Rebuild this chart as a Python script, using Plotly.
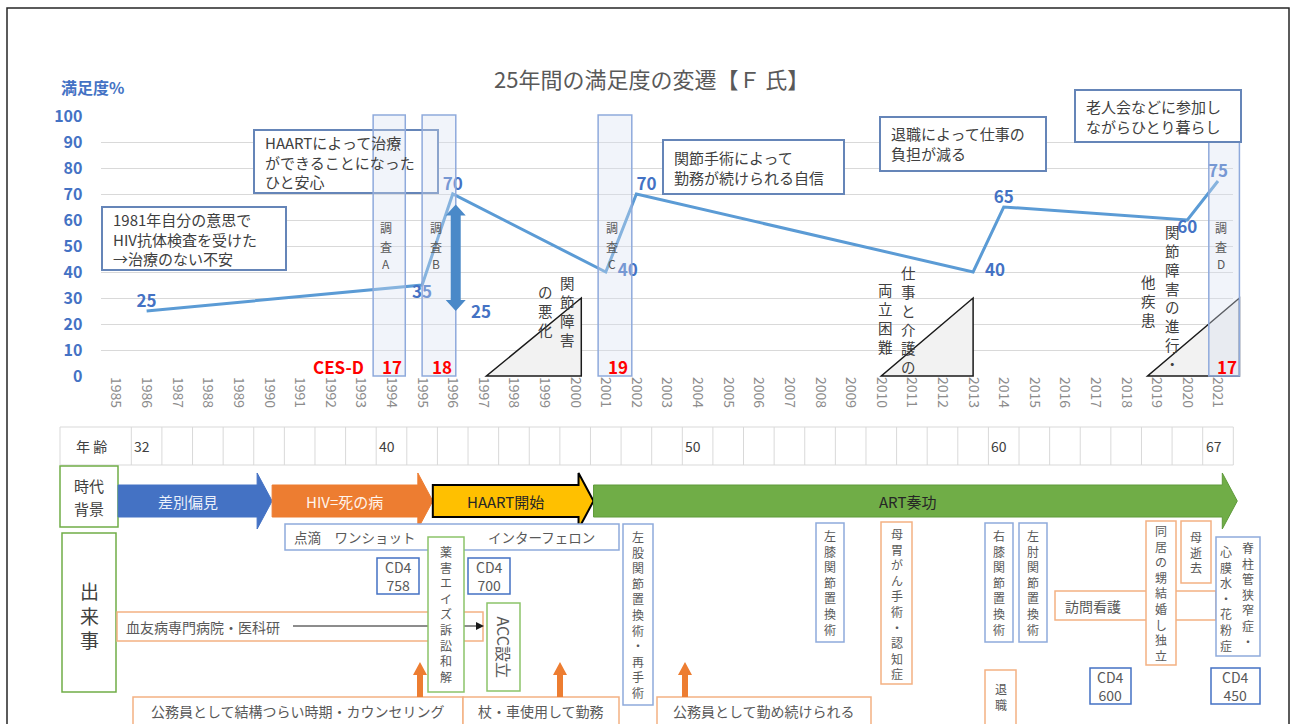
import plotly.graph_objects as go

W, H = 1295, 724
FONT = "Noto Sans CJK JP, Noto Sans, sans-serif"

BLUE_TXT = "#4472C4"
GRAY_TXT = "#595959"
DARK_TXT = "#404040"
BOX_EDGE = "#6585B8"
LIGHT_BLUE = "#8FAADC"
MID_BLUE = "#4472C4"
LIGHT_ORANGE = "#F4B183"
ORANGE = "#ED7D31"
GREEN = "#70AD47"
LIGHT_GREEN = "#8CC46A"

# ---- data -------------------------------------------------------------
YEARS = list(range(1985, 2022))
SAT_YEARS = [1986, 1995, 1996, 2001, 2002, 2013, 2014, 2020, 2021]
SAT_VALUES = [25, 35, 70, 40, 70, 40, 65, 60, 75]
SAT_LABEL_POS = ["top center", "bottom center", "top center", "middle right", "top right",
                 "middle right", "top center", "bottom center", "top center"]

GAP_YEAR = 1996
GAP_FROM, GAP_TO = 25, 66
GAP_LABEL = "25"

SURVEY_NAMES = ["A", "B", "C", "D"]
SURVEY_START = [1993.4, 1995.0, 2000.75, 2020.7]
SURVEY_END = [1994.45, 1996.1, 2001.85, 2021.7]
CESD_SCORES = [17, 18, 19, 17]

DIFF_START = [1997.1, 2010.0, 2018.7]
DIFF_END = [2000.2, 2013.0, 2021.7]
DIFF_HEIGHT = 30
DIFF_LABELS = [["関節障害", "の悪化"], ["仕事と介護の", "両立困難"], ["関節障害の進行・", "他疾患"]]

COMMENTS = [
    "1981年自分の意思で<br>HIV抗体検査を受けた<br>→治療のない不安",
    "HAARTによって治療<br>ができることになった<br>ひと安心",
    "関節手術によって<br>勤務が続けられる自信",
    "退職によって仕事の<br>負担が減る",
    "老人会などに参加し<br>ながらひとり暮らし",
]

AGE_YEARS = [1986, 1994, 2004, 2014, 2021]
AGES = [32, 40, 50, 60, 67]

ERA_NAMES = ["差別偏見", "HIV=死の病", "HAART開始", "ART奏功"]
ERA_BOUNDS = [1985.07, 1990.1, 1995.35, 2000.6, 2021.63]

CD4_VALUES = [758, 700, 600, 450]
EVENTS_V = ["薬害エイズ訴訟和解", "左股関節置換術・再手術", "左膝関節置換術", "母胃がん手術・認知症",
            "右膝関節置換術", "左肘関節置換術", "同居の甥結婚し独立", "母逝去", "退職"]
EVENTS_H = ["点滴　ワンショット", "インターフェロン", "血友病専門病院・医科研", "訪問看護",
            "公務員として結構つらい時期・カウンセリング", "杖・車使用して勤務", "公務員として勤め続けられる"]

# ---- geometry helpers ---------------------------------------------------
X_LEFT, X_RIGHT = 100.7, 1233.3
Y_BOTTOM, Y_TOP = 376, 116
R0, R1 = 1984.5, 2021.5

shapes, annotations = [], []


def px(x):
    return x / W


def py(y):
    return 1 - y / H


def xp(year):
    return X_LEFT + (year - R0) * (X_RIGHT - X_LEFT) / (R1 - R0)


def yp(v):
    return Y_BOTTOM - v * (Y_BOTTOM - Y_TOP) / 100


def rect(x0, y0, x1, y1, color, width=1.5, fill="white"):
    shapes.append(dict(type="rect", xref="paper", yref="paper", x0=px(x0), x1=px(x1),
                       y0=py(y1), y1=py(y0), line=dict(color=color, width=width),
                       fillcolor=fill, layer="above"))


def poly(points, fill, color="rgba(0,0,0,0)", width=0):
    d = "M " + " L ".join(f"{px(x):.5f},{py(y):.5f}" for x, y in points) + " Z"
    shapes.append(dict(type="path", xref="paper", yref="paper", path=d, fillcolor=fill,
                       line=dict(color=color, width=width), layer="above"))


def line(x0, y0, x1, y1, color, width=1):
    shapes.append(dict(type="line", xref="paper", yref="paper", x0=px(x0), x1=px(x1),
                       y0=py(y0), y1=py(y1), line=dict(color=color, width=width), layer="above"))


def text(x, y, s, size=14, color=GRAY_TXT, xanchor="center", bold=False, angle=0, align="left"):
    annotations.append(dict(xref="paper", yref="paper", x=px(x), y=py(y), text=s, showarrow=False,
                            xanchor=xanchor, yanchor="middle", align=align, textangle=angle,
                            borderpad=0,
                            font=dict(family=FONT, size=size, color=color,
                                      weight="bold" if bold else "normal")))


def vtext(x, yc, s, size=12, color=GRAY_TXT):
    # vertical writing: one glyph per line
    text(x, yc, "<br>".join(s), size, color, align="center")


def vbox(x0, y0, x1, y1, s, color, size=12, yc=None):
    rect(x0, y0, x1, y1, color)
    vtext((x0 + x1) / 2, yc if yc is not None else (y0 + y1) / 2, s, size)


def up_arrow(x, y_base, y_tip, color=ORANGE):
    poly([(x - 3, y_base), (x - 3, y_tip + 13), (x - 7, y_tip + 13), (x, y_tip),
          (x + 7, y_tip + 13), (x + 3, y_tip + 13), (x + 3, y_base)], color)


# ---- figure -----------------------------------------------------------
# labels set to the right of a point get a small lead so they clear the band text
sat_text = [("\u2002\u2009" if p == "middle right" else "") + str(v)
            for v, p in zip(SAT_VALUES, SAT_LABEL_POS)]

fig = go.Figure()
fig.add_trace(go.Scatter(
    x=SAT_YEARS, y=SAT_VALUES, mode="lines+text",
    text=sat_text, textposition=SAT_LABEL_POS,
    textfont=dict(family=FONT, size=17, color=BLUE_TXT, weight="bold"),
    line=dict(color="#5B9BD5", width=3), hoverinfo="skip", cliponaxis=False,
))

# outer frame
rect(7, 8, 1289, 760, "#262626", width=1.5, fill="rgba(0,0,0,0)")

# title and axis caption
text(651, 78, "25年間の満足度の変遷【Ｆ 氏】", 22, GRAY_TXT)
text(60, 87, "満足度%", 16, BLUE_TXT, xanchor="left", bold=True)

# comment boxes (HAART box sits under the survey bands)
COMMENT_BOXES = [(102, 207, 286, 270), (254, 130, 438, 193), (663, 140, 844, 194),
                 (880, 117, 1046, 171), (1075, 90, 1241, 142)]
for i in (1, 0, 2, 3):
    x0, y0, x1, y1 = COMMENT_BOXES[i]
    rect(x0, y0, x1, y1, BOX_EDGE, width=2)
    text(x0 + 10, (y0 + y1) / 2, COMMENTS[i], 15, DARK_TXT, xanchor="left")

# difficulty triangles
for s, e in zip(DIFF_START, DIFF_END):
    poly([(xp(s), yp(0)), (xp(e), yp(0)), (xp(e), yp(DIFF_HEIGHT))], "#F2F2F2", "#1A1A1A", 1.5)

TRI_TEXT = [[(567, 283), (545, 292)], [(908, 273), (885, 290)], [(1172, 233), (1148, 282)]]
for labels, spots in zip(DIFF_LABELS, TRI_TEXT):
    for col, (x, y0) in zip(labels, spots):
        vtext(x, y0 + 18.5 * (len(col) - 1) / 2, col, 14.5, DARK_TXT)

# survey bands
for name, s, e, score in zip(SURVEY_NAMES, SURVEY_START, SURVEY_END, CESD_SCORES):
    rect(xp(s), yp(100.4), xp(e), yp(0), LIGHT_BLUE, width=1.5, fill="rgba(214,224,242,0.35)")
    xc = (xp(s) + xp(e)) / 2
    for k, ch in enumerate("調査" + name):
        text(xc - 3, 228 + 18 * k, ch, 12, GRAY_TXT)
    text(xc + 3, yp(0) - 10, str(score), 17, "#FF0000", bold=True)
text(xp(SURVEY_START[0]) - 8, yp(0) - 10, "CES-D", 17, "#FF0000", xanchor="right", bold=True)

# box over band D
x0, y0, x1, y1 = COMMENT_BOXES[4]
rect(x0, y0, x1, y1, BOX_EDGE, width=2)
text(x0 + 10, (y0 + y1) / 2, COMMENTS[4], 15, DARK_TXT, xanchor="left")

# double arrow at the HAART jump
ax = xp(GAP_YEAR) + 3
top, bot = yp(GAP_TO), yp(GAP_FROM)
poly([(ax, top), (ax + 10, top + 11), (ax + 5, top + 11), (ax + 5, bot - 11), (ax + 10, bot - 11),
      (ax, bot), (ax - 10, bot - 11), (ax - 5, bot - 11), (ax - 5, top + 11), (ax - 10, top + 11)],
     "#4A89C8")
text(ax + 25, bot, GAP_LABEL, 17, BLUE_TXT, bold=True)

# age table
T_TOP, T_BOT = 427, 465
line(60, T_TOP, X_RIGHT, T_TOP, "#D9D9D9")
line(60, T_BOT, X_RIGHT, T_BOT, "#D9D9D9")
line(60, T_TOP, 60, T_BOT, "#D9D9D9")
for y in YEARS:
    line(xp(y + 0.5), T_TOP, xp(y + 0.5), T_BOT, "#D9D9D9")
text(92, 446, "年 齢", 14, DARK_TXT)
for y, a in zip(AGE_YEARS, AGES):
    text(xp(y - 0.5) + 2, 446, str(a), 14, DARK_TXT, xanchor="left")

# era arrows
rect(60, 466, 118, 527, GREEN)
text(89, 485, "時代", 15, DARK_TXT)
text(89, 508, "背景", 15, DARK_TXT)
ERA_STYLE = [("#4472C4", "#4472C4", "#EAF0FA"), ("#ED7D31", "#ED7D31", "#FFF4EC"),
             ("#FFC000", "#000000", "#262626"), ("#70AD47", "#5E9A3A", "#262626")]
for name, a, b, (fill, edge, tc) in zip(ERA_NAMES, ERA_BOUNDS[:-1], ERA_BOUNDS[1:], ERA_STYLE):
    x0, x1 = xp(a), xp(b)
    poly([(x0, 485), (x1 - 15, 485), (x1 - 15, 473), (x1, 501), (x1 - 15, 529), (x1 - 15, 517), (x0, 517)],
         fill, edge, 2 if edge == "#000000" else 1)
    text((x0 + x1 - 15) / 2, 501, name, 15, tc)

# events
rect(62, 533, 116, 692, GREEN)
vtext(89, 615, "出来事", 19, DARK_TXT)

rect(285, 524, 619, 550, LIGHT_BLUE)
text(293, 537, EVENTS_H[0], 13.5, GRAY_TXT, xanchor="left")
text(487, 537, EVENTS_H[1], 13.5, GRAY_TXT, xanchor="left")

rect(117, 612, 483, 641, LIGHT_ORANGE)
text(125, 627, EVENTS_H[2], 14, GRAY_TXT, xanchor="left")
line(293, 626, 476, 626, "#1A1A1A", 1)
poly([(476, 622), (484, 626), (476, 630)], "#1A1A1A")

rect(1055, 591, 1216, 620, LIGHT_ORANGE)
text(1064, 606, EVENTS_H[3], 14, GRAY_TXT, xanchor="left")

for (x0, x1), s in zip([(133, 463), (463, 619), (657, 871)], EVENTS_H[4:]):
    rect(x0, 697, x1, 740, LIGHT_ORANGE)
    text((x0 + x1) / 2, 711, s, 14, GRAY_TXT)

for x in (420, 560, 685):
    up_arrow(x, 697, 662)

V_BOXES = [(428, 537, 464, 692, LIGHT_GREEN), (623, 524, 653, 705, LIGHT_BLUE),
           (816, 523, 844, 642, LIGHT_BLUE), (881, 522, 912, 684, LIGHT_ORANGE),
           (985, 523, 1013, 642, LIGHT_BLUE), (1019, 523, 1047, 642, LIGHT_BLUE),
           (1146, 521, 1176, 665, LIGHT_ORANGE), (1181, 521, 1211, 583, LIGHT_ORANGE),
           (985, 670, 1016, 740, LIGHT_ORANGE)]
for s, (x0, y0, x1, y1, c) in zip(EVENTS_V, V_BOXES):
    if s == "薬害エイズ訴訟和解":
        vbox(x0, y0, x1, y1, s, c, yc=614)
    elif s == "退職":
        vbox(x0, y0, x1, y1, s, c, yc=696)
    else:
        vbox(x0, y0, x1, y1, s, c)

rect(487, 603, 520, 691, LIGHT_GREEN)
text(503.5, 647, "ACC設立", 16, GRAY_TXT, angle=90)

rect(1216, 537, 1260, 656, LIGHT_BLUE)
vtext(1248, 594, "脊柱管狭窄症・", 12, GRAY_TXT)
vtext(1226, 598, "心膜水・花粉症", 12, GRAY_TXT)

for v, (x0, y0, x1, y1) in zip(CD4_VALUES, [(377, 558, 419, 594), (468, 558, 510, 594),
                                              (1090, 668, 1131, 704), (1211, 668, 1260, 704)]):
    rect(x0, y0, x1, y1, MID_BLUE)
    text((x0 + x1) / 2, (y0 + y1) / 2, f"CD4<br>{v}", 14, GRAY_TXT, align="center")

fig.update_layout(
    width=W, height=H, margin=dict(l=0, r=0, t=0, b=0, pad=0, autoexpand=False),
    paper_bgcolor="white", plot_bgcolor="white", showlegend=False, hovermode=False,
    font=dict(family=FONT, color=GRAY_TXT),
    xaxis=dict(domain=[px(X_LEFT), px(X_RIGHT)], range=[R0, R1], tickmode="array",
               tickvals=YEARS, ticktext=[str(y) for y in YEARS], tickangle=90,
               tickfont=dict(family=FONT, size=14, color="#8C8C8C"), automargin=False,
               showgrid=False, zeroline=False, showline=False, fixedrange=True),
    yaxis=dict(domain=[py(Y_BOTTOM), py(Y_TOP)], range=[0, 100], dtick=10, automargin=False,
               tickfont=dict(family=FONT, size=16, color=BLUE_TXT, weight="bold"),
               showgrid=True, gridcolor="#D9D9D9", gridwidth=1, zeroline=False,
               ticks="outside", ticklen=14, tickcolor="rgba(0,0,0,0)", fixedrange=True),
    shapes=shapes, annotations=annotations,
)

fig.write_html("out.html", config={"displayModeBar": False},
               post_script="document.body.style.margin='0';document.body.style.overflow='hidden';")
